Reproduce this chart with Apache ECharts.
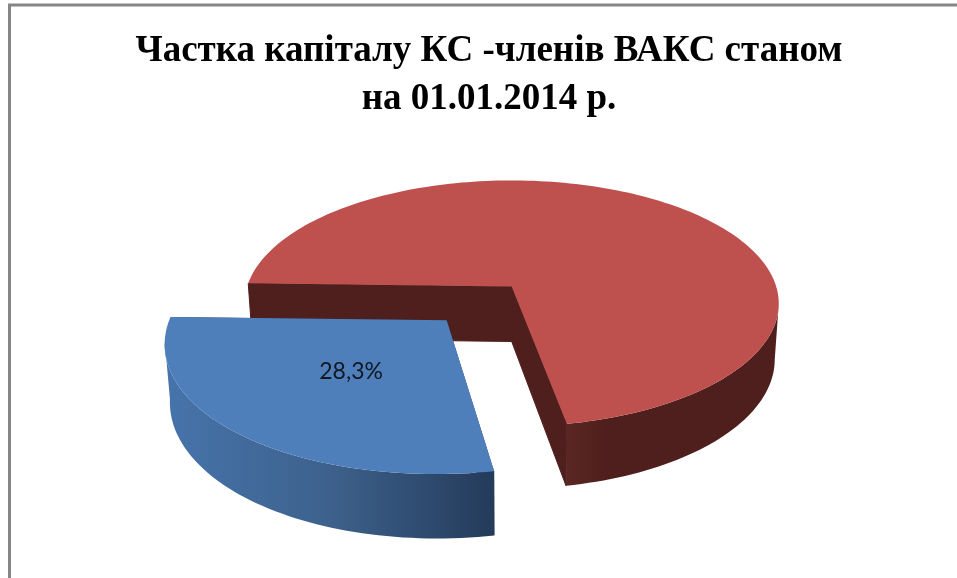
<!DOCTYPE html>
<html><head><meta charset="utf-8">
<style>html,body{margin:0;padding:0;background:#fff}#c{width:957px;height:578px}</style>
<script src="https://cdn.jsdelivr.net/npm/echarts@6/dist/echarts.min.js"></script>
</head><body><div id="c"></div>
<script>
const categories = ['КС -члени ВАКС', 'Інші'];
const shares = [28.3, 71.7];
const labels = ['28,3%', ''];
const explodes = [0.355, 0];
const titleLines = ['Частка капіталу КС -членів ВАКС станом', 'на 01.01.2014 р.'];

// View of the disc (perspective projection)
const view = {cx: 511.7, cy: 286.5, R: 264.5, kR: 120.7, p: 0.138, depth: 55, depthGrow: 0.05, baseScale: 0.985, startDeg: 181.5 - 360};
const explodedScale = 1.01;
const explodeSkew = -0.006;
const labelRadius = 0.487;
const topColors = ['#4f7fbb', '#be504d'];
const wallStops = [
  [[0, '#4674ab'], [0.5, '#3d618c'], [1, '#243b5a']],
  [[0, '#5a2623'], [0.2, '#4f1f1d'], [1, '#4e1f1c']]
];
const flatWall = ['#243b5a', '#4f1f1d'];

function project(u, v, base) {
  const s = 1 / (1 - view.p * v);
  const x = view.R * u * s, y = view.kR * v * s;
  if (!base) return [view.cx + x, view.cy + y];
  return [view.cx + x * view.baseScale, view.cy + y * (1 + view.depthGrow) + view.depth];
}

function arc(o, r, a0, a1, base) {
  const pts = [];
  const n = Math.max(2, Math.ceil((a1 - a0) / 1.5));
  for (let i = 0; i <= n; i++) {
    const a = (a0 + (a1 - a0) * i / n) * Math.PI / 180;
    pts.push(project(o[0] + r * Math.cos(a), o[1] + r * Math.sin(a), base));
  }
  return pts;
}

function renderSlice(params, api) {
  const idx = api.value(0);
  const total = shares.reduce((a, b) => a + b, 0);
  let a1 = view.startDeg + 360, a0 = a1 - shares[0] / total * 360;
  if (idx === 1) { a0 = a1 - 360; a1 = a0 + shares[1] / total * 360; }
  const mid = (a0 + a1) / 2 * Math.PI / 180;
  const ex = api.value(1);
  const o = [ex * Math.cos(mid) + (ex > 0 ? explodeSkew : 0), ex * Math.sin(mid)];
  const r = ex > 0 ? explodedScale : 1;
  const topArc = arc(o, r, a0, a1, false), baseArc = arc(o, r, a0, a1, true);
  const apexT = project(o[0], o[1], false), apexB = project(o[0], o[1], true);
  const kids = [];
  const poly = (points, fill, stroke) => ({type: 'polygon', shape: {points}, style: {fill, stroke: stroke || null, lineWidth: stroke ? 1 : 0}});
  const grad = new echarts.graphic.LinearGradient(0, 0, 1, 0, wallStops[idx].map(s => ({offset: s[0], color: s[1]})));
  const seam = idx === 1 ? flatWall[idx] : null;
  // radial walls
  kids.push(poly([apexT, topArc[0], baseArc[0], apexB], flatWall[idx], seam));
  kids.push(poly([apexT, topArc[topArc.length - 1], baseArc[baseArc.length - 1], apexB], flatWall[idx], seam));
  // outer wall: only the part facing the viewer
  const frontT = [], frontB = [];
  const n = topArc.length;
  for (let i = 0; i < n; i++) {
    const rad = (a0 + (a1 - a0) * i / (n - 1)) * Math.PI / 180;
    if (Math.sin(rad) >= view.p) { frontT.push(topArc[i]); frontB.push(baseArc[i]); }
  }
  if (frontT.length > 1) kids.push(poly(frontT.concat(frontB.slice().reverse()), grad));
  // top
  kids.push(poly([apexT].concat(topArc), topColors[idx]));
  if (labels[idx]) {
    const lp = project(o[0] + labelRadius * Math.cos(mid), o[1] + labelRadius * Math.sin(mid), false);
    kids.push({type: 'text', x: lp[0], y: lp[1], style: {text: labels[idx], fill: '#111820', fontFamily: 'Lato', fontSize: 23, align: 'center', verticalAlign: 'middle'}});
  }
  return {type: 'group', children: kids};
}

const chart = echarts.init(document.getElementById('c'), null, {renderer: 'canvas'});
chart.setOption({
  animation: false,
  backgroundColor: '#fff',
  title: {text: titleLines.join('\n'), left: 484, top: 22, textAlign: 'center',
    textStyle: {fontFamily: 'Liberation Serif', fontWeight: 'bold', fontSize: 37, lineHeight: 48, color: '#000'}},
  graphic: [
    {type: 'line', shape: {x1: 8, y1: 5, x2: 957, y2: 5}, style: {stroke: '#868686', lineWidth: 3}, silent: true},
    {type: 'line', shape: {x1: 9.5, y1: 4, x2: 9.5, y2: 578}, style: {stroke: '#868686', lineWidth: 3}, silent: true}
  ],
  series: [{type: 'custom', coordinateSystem: 'none', renderItem: renderSlice,
    data: [[1, explodes[1], shares[1], categories[1]], [0, explodes[0], shares[0], categories[0]]]}]
});
</script></body></html>
